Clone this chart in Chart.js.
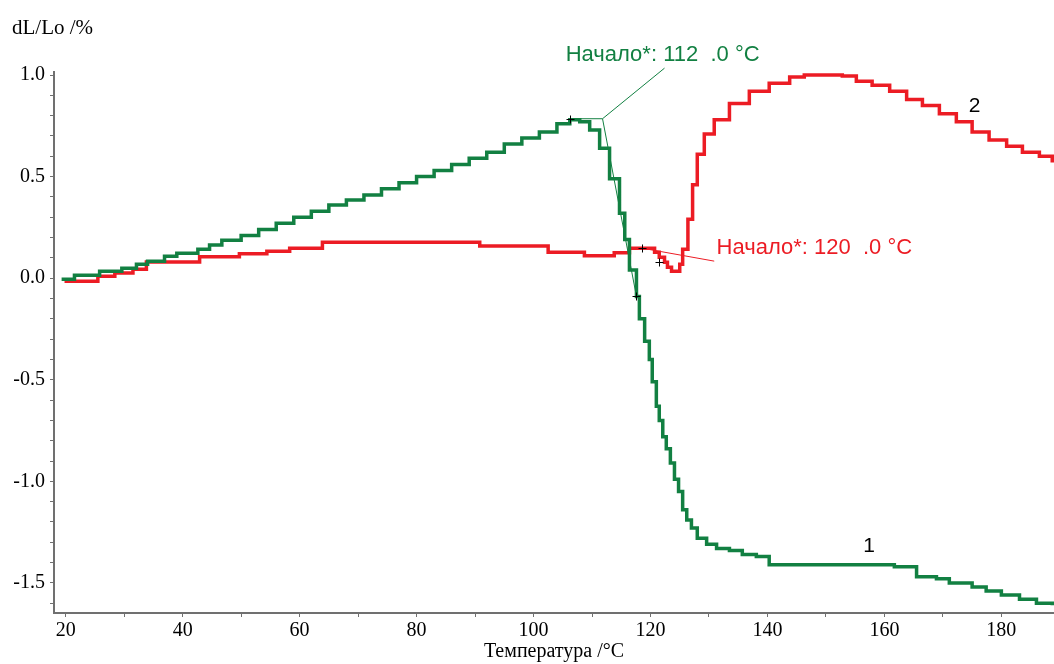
<!DOCTYPE html>
<html>
<head>
<meta charset="utf-8">
<script src="https://cdn.jsdelivr.net/npm/chart.js@4.4.0/dist/chart.umd.min.js"></script>
<style>
html, body { margin: 0; background: #fff; }
#wrap { width: 1054px; height: 664px; position: relative; }
</style>
</head>
<body>
<div id="wrap"><canvas id="dilChart"></canvas></div>
<script>
// Tick labels
const xTickLabels = [20, 40, 60, 80, 100, 120, 140, 160, 180];
const yTickLabels = [-1.5, -1.0, -0.5, 0.0, 0.5, 1.0];

// Curve 1 (green)
const greenTemp = [19.3, 21.5, 25.8, 29.6, 32.1, 34.0, 36.9, 39.0, 42.6, 44.6, 46.7, 50, 53, 56, 59, 62, 65, 68, 71, 74, 77, 80, 83, 86, 89, 92, 95, 98, 101, 104,
  106.2, 107.9, 109.6, 111.3, 113.0, 114.7, 115.6, 116.4, 117.6, 118.1, 119.0, 119.8, 120.3, 121.0, 121.5, 122.1, 122.7, 123.4, 124.1, 124.8, 125.5, 126.2, 127.0, 128.0, 129.6, 131.3, 133.5, 135.7, 138.1, 140.3,
  161.7, 165.5, 168.9, 171.1, 175.0, 177.4, 180.0, 183.1, 186.0, 188.7];
const greenDL = [-0.005, 0.015, 0.034, 0.049, 0.069, 0.084, 0.108, 0.123, 0.143, 0.163, 0.187, 0.21, 0.24, 0.27, 0.30, 0.33, 0.36, 0.385, 0.41, 0.44, 0.47, 0.50, 0.53, 0.56, 0.59, 0.62, 0.66, 0.69, 0.72, 0.76,
  0.78, 0.77, 0.73, 0.64, 0.49, 0.32, 0.19, 0.04, -0.09, -0.20, -0.31, -0.40, -0.51, -0.63, -0.70, -0.78, -0.84, -0.91, -0.99, -1.05, -1.14, -1.19, -1.23, -1.28, -1.31, -1.33, -1.34, -1.36, -1.37, -1.41,
  -1.42, -1.47, -1.48, -1.50, -1.52, -1.54, -1.56, -1.58, -1.60, -1.61];

// Curve 2 (red)
const redTemp = [19.8, 25.5, 28.4, 31.5, 33.8, 42.9, 49.7, 54.4, 58.3, 63.9, 90.8, 102.5, 108.7, 113.8, 116.4,
  120.7, 121.5, 122.4, 122.9, 123.6, 125.0, 125.5, 126.4, 127.2, 128.0, 129.2, 130.9, 133.5, 136.9, 140.3, 143.8, 146.3,
  152.8, 155.2, 157.9, 160.9, 163.8, 166.5, 169.4, 172.3, 175.0, 177.9, 180.9, 183.6, 186.5, 188.7];
const redDL = [-0.015, 0.01, 0.025, 0.044, 0.08, 0.105, 0.12, 0.133, 0.148, 0.177, 0.158, 0.128, 0.11, 0.125, 0.148,
  0.128, 0.103, 0.079, 0.054, 0.034, 0.069, 0.143, 0.29, 0.46, 0.61, 0.71, 0.78, 0.86, 0.92, 0.96, 0.99, 1.0,
  0.995, 0.97, 0.95, 0.92, 0.88, 0.85, 0.81, 0.77, 0.72, 0.68, 0.65, 0.62, 0.60, 0.57];

const GREEN = "#128042";
const RED = "#ec1c24";
const AXIS = "#707070";
const serif = '"Liberation Serif", "DejaVu Serif", serif';
const sans = '"Liberation Sans", Arial, sans-serif';

// minor ticks every 10 °C and every 0.1 %
const xTicks = [];
for (let v = 20; v <= 190; v += 10) xTicks.push(v);
const yTicks = [];
for (let k = -16; k <= 10; k++) yTicks.push(k / 10);

const toPoints = (xs, ys) => xs.map((t, i) => ({ x: t, y: ys[i] }));

// onset annotations (data units)
const greenOnset = { text: "Начало*: 112  .0 °C", tx: 105.5, ty: 1.069, corner: [111.8, 0.785], flatTo: 106.7, up: [122.4, 1.034], down: [117.6, -0.09], marks: [[106.3, 0.785], [117.6, -0.09]] };
const redOnset = { text: "Начало*: 120  .0 °C", tx: 131.3, ty: 0.118, from: [118.5, 0.148], to: [130.9, 0.084], marks: [[118.5, 0.148], [121.5, 0.079]] };
const curveLabels = [{ text: "1", x: 157.4, y: -1.35 }, { text: "2", x: 175.4, y: 0.818 }];

const noPad = s => { s.paddingLeft = 0; s.paddingRight = 0; s.paddingTop = 0; s.paddingBottom = 0; };

const annotations = {
    id: "annotations",
    afterDatasetsDraw(chart) {
        const { ctx, scales: { x, y } } = chart;
        const px = v => x.getPixelForValue(v);
        const py = v => y.getPixelForValue(v);
        ctx.save();

        // green tangent construction
        ctx.strokeStyle = GREEN;
        ctx.lineWidth = 1;
        ctx.beginPath();
        ctx.moveTo(px(greenOnset.flatTo), py(greenOnset.corner[1]));
        ctx.lineTo(px(greenOnset.corner[0]), py(greenOnset.corner[1]));
        ctx.lineTo(px(greenOnset.up[0]), py(greenOnset.up[1]));
        ctx.moveTo(px(greenOnset.corner[0]), py(greenOnset.corner[1]));
        ctx.lineTo(px(greenOnset.down[0]), py(greenOnset.down[1]));
        ctx.stroke();

        // red leader
        ctx.strokeStyle = RED;
        ctx.beginPath();
        ctx.moveTo(px(redOnset.from[0]), py(redOnset.from[1]));
        ctx.lineTo(px(redOnset.to[0]), py(redOnset.to[1]));
        ctx.stroke();

        // + marks
        ctx.strokeStyle = "#000";
        ctx.lineWidth = 1;
        [...greenOnset.marks, ...redOnset.marks].forEach(([mx, my]) => {
            const cx = Math.round(px(mx)) + 0.5, cy = Math.round(py(my)) + 0.5;
            ctx.beginPath();
            ctx.moveTo(cx - 4, cy); ctx.lineTo(cx + 4, cy);
            ctx.moveTo(cx, cy - 4); ctx.lineTo(cx, cy + 4);
            ctx.stroke();
        });

        ctx.font = "22px " + sans;
        ctx.textBaseline = "alphabetic";
        ctx.textAlign = "left";
        ctx.fillStyle = GREEN;
        ctx.fillText(greenOnset.text, px(greenOnset.tx), py(greenOnset.ty));
        ctx.fillStyle = RED;
        ctx.fillText(redOnset.text, px(redOnset.tx), py(redOnset.ty));

        ctx.font = "21px " + sans;
        ctx.fillStyle = "#000";
        ctx.textAlign = "center";
        curveLabels.forEach(l => ctx.fillText(l.text, px(l.x), py(l.y)));

        // y axis title
        ctx.font = "21px " + serif;
        ctx.textAlign = "left";
        ctx.fillText("dL/Lo /%", 12, 34);
        ctx.restore();
    }
};

const ctx = document.getElementById("dilChart").getContext("2d");

const chart = new Chart(ctx, {
    type: "line",
    data: {
        datasets: [
            {
                label: "1",
                data: toPoints(greenTemp, greenDL),
                borderColor: GREEN,
                borderWidth: 3.5,
                pointRadius: 0,
                stepped: true,
                fill: false,
            },
            {
                label: "2",
                data: toPoints(redTemp, redDL),
                borderColor: RED,
                borderWidth: 3.5,
                pointRadius: 0,
                stepped: true,
                fill: false,
            },
        ],
    },
    options: {
        responsive: true,
        maintainAspectRatio: false,
        animation: false,
        layout: { padding: { top: 72, right: 0, bottom: 0, left: 0 } },
        scales: {
            x: {
                type: "linear",
                min: 18,
                max: 189,
                afterBuildTicks: s => { s.ticks = xTicks.map(v => ({ value: v })); },
                afterFit: s => { s.height = 51; noPad(s); },
                ticks: {
                    autoSkip: false,
                    maxRotation: 0,
                    padding: 2,
                    color: "#000",
                    font: { family: serif, size: 20 },
                    callback: v => xTickLabels.includes(v) ? String(v) : "",
                },
                grid: { drawOnChartArea: false, tickLength: 4, color: AXIS },
                border: { color: AXIS, width: 2 },
                title: {
                    display: true,
                    text: "Температура /°C",
                    color: "#000",
                    font: { family: serif, size: 20 },
                    padding: { top: 0, bottom: 0 },
                },
            },
            y: {
                min: -1.648,
                max: 1.015,
                afterBuildTicks: s => { s.ticks = yTicks.map(v => ({ value: v })); },
                afterFit: s => { s.width = 54; noPad(s); },
                ticks: {
                    autoSkip: false,
                    padding: 5,
                    color: "#000",
                    font: { family: serif, size: 20 },
                    callback: v => yTickLabels.some(l => Math.abs(l - v) < 1e-6) ? v.toFixed(1) : "",
                },
                grid: { drawOnChartArea: false, tickLength: 4, color: AXIS },
                border: { color: AXIS, width: 2 },
            },
        },
        plugins: {
            legend: { display: false },
            tooltip: { enabled: false },
        },
    },
    plugins: [annotations],
});
</script>
</body>
</html>
